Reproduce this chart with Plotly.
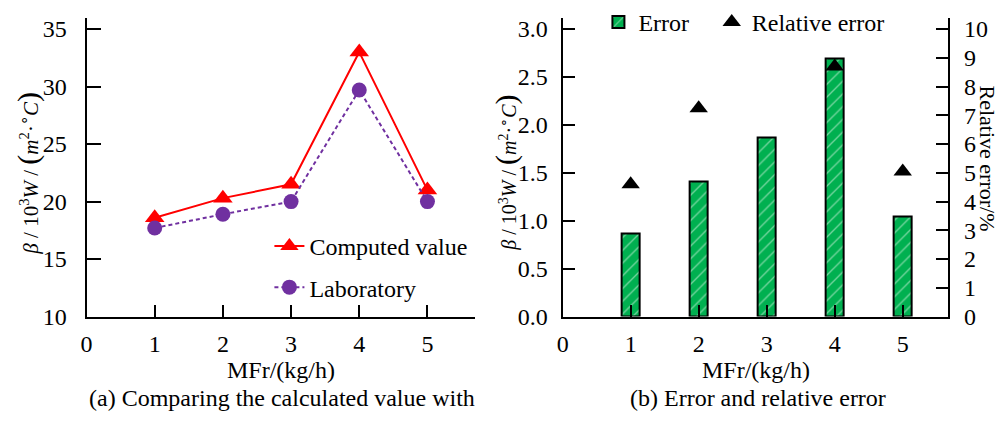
import plotly.graph_objects as go

# Mass flow rate categories (kg/h)
mfr = [1, 2, 3, 4, 5]
x_ticks = [0, 1, 2, 3, 4, 5]

# (a) heat transfer coefficient, computed vs. laboratory
computed = [18.6, 20.3, 21.5, 33.0, 21.0]
laboratory = [17.7, 18.9, 20.0, 29.7, 20.0]
left_y_ticks = [10, 15, 20, 25, 30, 35]

# (b) absolute error and relative error (%)
error = [0.87, 1.41, 1.87, 2.69, 1.04]
relative_error = [4.6, 7.25, None, 8.7, 5.05]
err_ticks = [0.0, 0.5, 1.0, 1.5, 2.0, 2.5, 3.0]
rel_ticks = list(range(0, 11))

W, H = 1000, 428
FONT = "Liberation Serif, Times New Roman, serif"
FS = 24
RED = "#FF0000"
PURPLE = "#7030A0"
GREEN = "#00B050"

fig = go.Figure()

fig.add_trace(go.Scatter(
    x=mfr, y=computed, name="Computed value", mode="lines+markers",
    line=dict(color=RED, width=2),
    marker=dict(symbol="triangle-up", size=17, color=RED),
    xaxis="x", yaxis="y", legend="legend", legendgroup="a1",
))
fig.add_trace(go.Scatter(
    x=mfr, y=laboratory, name="Laboratory", mode="lines+markers",
    line=dict(color=PURPLE, width=2, dash="4px,3px"),
    marker=dict(symbol="circle", size=15, color=PURPLE),
    xaxis="x", yaxis="y", legend="legend", legendgroup="a2",
))

fig.add_trace(go.Bar(
    x=mfr, y=error, name="Error", width=0.27,
    marker=dict(color=GREEN, line=dict(color="black", width=2),
                pattern=dict(shape="/", fgcolor="#E8F8EC", bgcolor=GREEN,
                             size=9, solidity=0.15)),
    xaxis="x2", yaxis="y2", legend="legend2",
))
fig.add_trace(go.Scatter(
    x=mfr, y=relative_error, name="Relative error", mode="markers",
    marker=dict(symbol="triangle-up", size=16, color="black"),
    xaxis="x2", yaxis="y3", legend="legend3",
))

axis_common = dict(
    showline=True, linecolor="black", linewidth=2,
    ticks="inside", tickcolor="black", tickwidth=2,
    showgrid=False, zeroline=False,
    tickfont=dict(family=FONT, size=FS, color="black"),
)

# plot area spans pixel rows 8..324 of the 428-px figure
y0 = (H - 324) / H
y1 = (H - 8) / H

legend_common = dict(bgcolor="rgba(0,0,0,0)", itemwidth=30,
                     font=dict(family=FONT, size=FS, color="black"))

fig.update_layout(
    width=W, height=H,
    margin=dict(l=0, r=0, t=0, b=0),
    paper_bgcolor="white", plot_bgcolor="white",
    font=dict(family=FONT, size=FS, color="black"),
    bargap=0,
    xaxis=dict(domain=[81 / W, 472 / W], range=[0, 5.7], tickvals=x_ticks,
               ticklen=12, anchor="y", ticklabelstandoff=5, **axis_common),
    yaxis=dict(domain=[y0, y1], range=[10, 36], tickvals=left_y_ticks,
               ticklen=14, anchor="x", ticklabelstandoff=13, **axis_common),
    xaxis2=dict(domain=[560 / W, 948 / W], range=[0, 5.67], tickvals=x_ticks,
                ticklen=12, anchor="y2", ticklabelstandoff=5, **axis_common),
    yaxis2=dict(domain=[y0, y1], range=[0, 3.12], tickvals=err_ticks,
                tickformat=".1f", ticklen=12, anchor="x2",
                ticklabelstandoff=8, **axis_common),
    yaxis3=dict(range=[0, 10.4], tickvals=rel_ticks, ticklen=12,
                overlaying="y2", side="right", anchor="x2",
                ticklabelstandoff=9, **axis_common),
    legend=dict(x=265 / W, y=(H - 226) / H, xanchor="left", yanchor="top",
                tracegroupgap=7, **legend_common),
    legend2=dict(x=596 / W, y=(H - 13) / H, xanchor="left", yanchor="middle",
                 **legend_common),
    legend3=dict(x=710 / W, y=(H - 13) / H, xanchor="left", yanchor="middle",
                 **legend_common),
)

ytitle = ("<i>β</i> / 10<sup>3</sup><i>W</i> / "
          "<span style='font-size:30px'>(</span><i>m</i><sup>2</sup>·"
          "<sup>∘</sup><i>C</i><span style='font-size:30px'>)</span>")

annotations = [
    dict(text=ytitle, x=22 / W, y=(H - 172) / H, textangle=-90, size=21),
    dict(text=ytitle, x=503 / W, y=(H - 172) / H, textangle=-90, size=20),
    dict(text="Relative error/%", x=987 / W, y=(H - 157) / H, textangle=90, size=22),
    dict(text="MFr/(kg/h)", x=277 / W, y=(H - 380) / H, size=FS),
    dict(text="MFr/(kg/h)", x=755 / W, y=(H - 380) / H, size=FS),
    dict(text="(a) Comparing the calculated value with", x=278 / W, y=(H - 410) / H, size=FS),
    dict(text="(b) Error and relative error", x=757 / W, y=(H - 410) / H, size=FS),
]
for a in annotations:
    size = a.pop("size")
    fig.add_annotation(xref="paper", yref="paper", showarrow=False,
                       xanchor="center", yanchor="middle",
                       font=dict(family=FONT, size=size, color="black"), **a)

fig.write_html("out.html")
